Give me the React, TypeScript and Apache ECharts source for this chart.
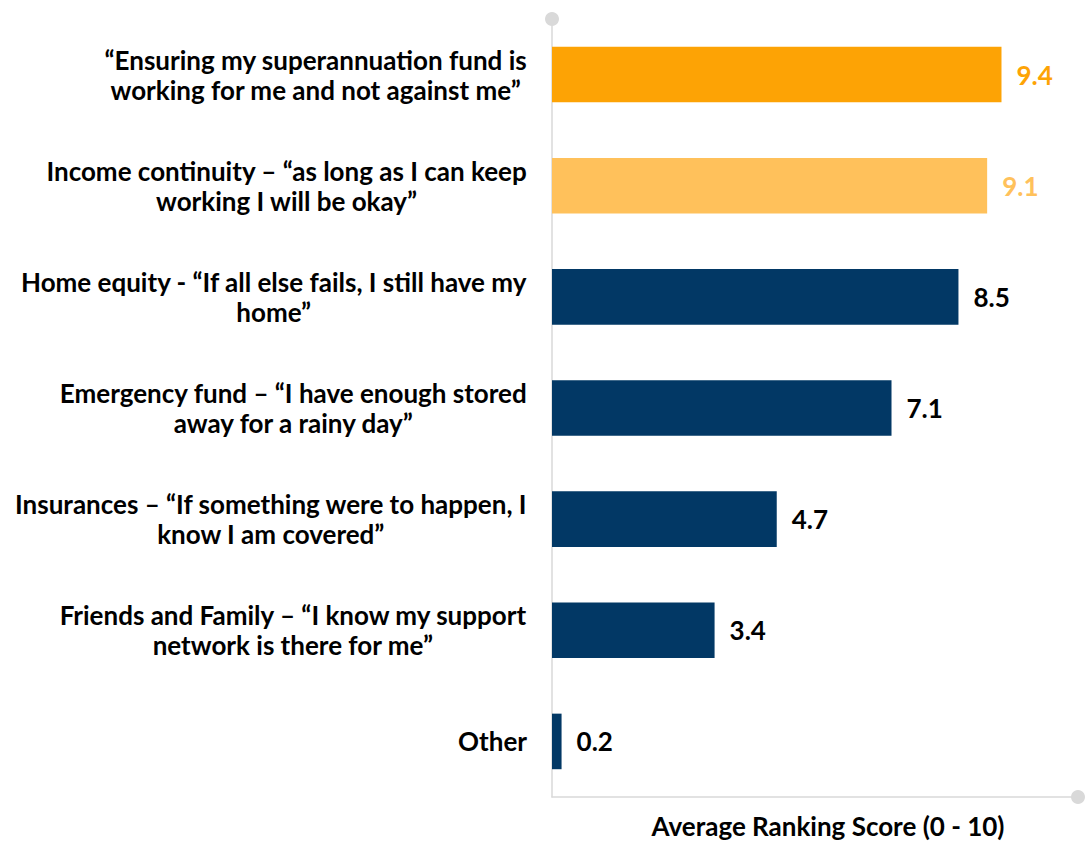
import React, { useEffect, useRef } from "react";
import * as echarts from "echarts";

const categories = [
  "“Ensuring my superannuation fund is\nworking for me and not against me”",
  "Income continuity – “as long as I can keep\nworking I will be okay”",
  "Home equity - “If all else fails, I still have my\nhome”",
  "Emergency fund – “I have enough stored\naway for a rainy day”",
  "Insurances – “If something were to happen, I\nknow I am covered”",
  "Friends and Family – “I know my support\nnetwork is there for me”",
  "Other",
];
const values = [9.4, 9.1, 8.5, 7.1, 4.7, 3.4, 0.2];
const barColors = ["#FDA305", "#FFC15B", "#023865", "#023865", "#023865", "#023865", "#023865"];
const labelColors = ["#FDA305", "#FFC15B", "#000000", "#000000", "#000000", "#000000", "#000000"];
const axisName = "Average Ranking Score (0 - 10)";

const FONT = "Lato";

export default function App() {
  const ref = useRef<HTMLDivElement>(null);
  useEffect(() => {
    const chart = echarts.init(ref.current!, null, { renderer: "svg" });
    chart.setOption({
      animation: false,
      backgroundColor: "#ffffff",
      grid: { left: 552, right: 7, top: 19, bottom: 44, containLabel: false, outerBoundsMode: "none" },
      xAxis: {
        type: "value",
        min: 0,
        max: 11,
        splitLine: { show: false },
        axisTick: { show: false },
        axisLabel: { show: false },
        axisLine: {
          show: true,
          lineStyle: { color: "#D9D9D9", width: 1.5 },
          symbol: ["none", "circle"],
          symbolSize: [14, 14],
        },
        name: axisName,
        nameLocation: "middle",
        nameGap: 16,
        nameTextStyle: {
          fontFamily: FONT,
          fontWeight: "bold",
          fontSize: 26,
          color: "#000",
          padding: [0, 0, 0, 26],
        },
      },
      yAxis: {
        type: "category",
        inverse: true,
        data: categories,
        axisTick: { show: false },
        axisLine: {
          show: true,
          lineStyle: { color: "#D9D9D9", width: 1.5 },
          symbol: ["none", "circle"],
          symbolSize: [14, 14],
        },
        axisLabel: {
          margin: 25,
          align: "right",
          formatter: (v: string) =>
            v
              .split("\n")
              .map((l) => `{c|${l}}`)
              .join("\n"),
          rich: {
            c: {
              align: "center",
              fontFamily: FONT,
              fontWeight: "bold",
              fontSize: 26,
              lineHeight: 30,
              color: "#000",
            },
          },
        },
      },
      series: [
        {
          type: "bar",
          barWidth: "50%",
          data: values.map((v, i) => ({
            value: v,
            itemStyle: { color: barColors[i] },
            label: { color: labelColors[i] },
          })),
          label: {
            show: true,
            position: "right",
            distance: 15,
            fontFamily: FONT,
            fontWeight: "bold",
            fontSize: 26,
            formatter: (p: any) => p.value.toFixed(1),
          },
        },
      ],
    });
    return () => chart.dispose();
  }, []);
  return (
    <div
      ref={ref}
      style={{ position: "fixed", left: 0, top: 0, width: 1085, height: 841 }}
    />
  );
}
